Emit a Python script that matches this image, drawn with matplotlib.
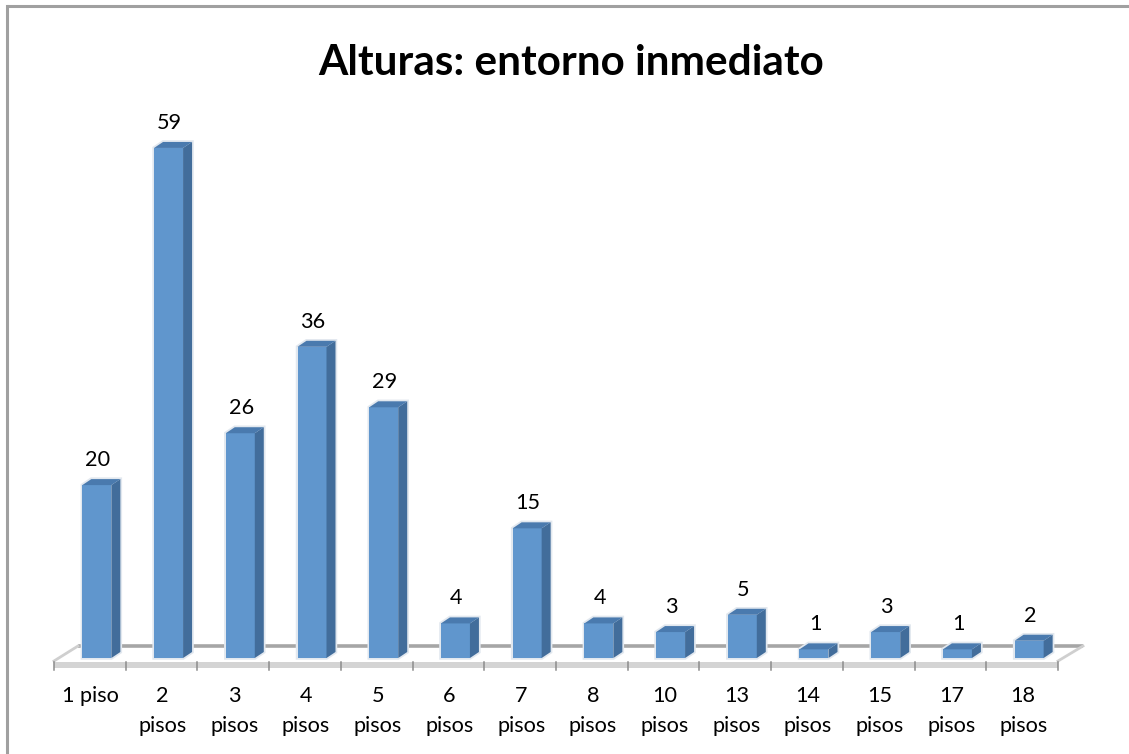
import matplotlib
matplotlib.use("Agg")
import matplotlib.pyplot as plt
from matplotlib.patches import Polygon

categories = ["1 piso", "2\npisos", "3\npisos", "4\npisos", "5\npisos", "6\npisos", "7\npisos",
              "8\npisos", "10\npisos", "13\npisos", "14\npisos", "15\npisos", "17\npisos", "18\npisos"]
values = [20, 59, 26, 36, 29, 4, 15, 4, 3, 5, 1, 3, 1, 2]

W, H = 1129, 754
plt.rcParams["font.family"] = ["Lato", "DejaVu Sans"]

fig = plt.figure(figsize=(W / 100, H / 100), dpi=100, facecolor="white")

# chart frame, only top and left show in the picture
fig.add_artist(plt.Line2D([7 / W, 7 / W], [0, (H - 6) / H], color="#a0a0a0", lw=2.2,
                          solid_capstyle="projecting"))
fig.add_artist(plt.Line2D([7 / W, 1], [(H - 6) / H, (H - 6) / H], color="#a0a0a0", lw=2.2,
                          solid_capstyle="butt"))

# plot area: left/right are the first and last tick, bottom is the bar base
left, right, base, top = 54, 1058, 658, 100
ax = fig.add_axes([left / W, (H - base) / H, (right - left) / W, (base - top) / H])
ax.set_xlim(-0.5, len(values) - 0.5)
ax.set_ylim(0, (base - top) / 8.645)
ax.axis("off")

# pixel sizes turned into data units
px_x = len(values) / (right - left)
px_y = 1 / 8.645
dep_x, dep_y = 9 * px_x, 6 * px_y
bar_w = 29 * px_x
shift = 7 * px_x


def poly(points, color, z, **kw):
    ax.add_patch(Polygon(points, closed=True, facecolor=color, edgecolor=kw.pop("edge", "none"),
                         zorder=z, clip_on=False, **kw))


# floor
x0, x1 = -0.5, len(values) - 0.5
ax.plot([x0 + 24 * px_x, x1 + 25 * px_x], [12 * px_y, 12 * px_y], color="#a6a6a6", lw=2.6,
        zorder=2, clip_on=False, solid_capstyle="butt")
ax.plot([x0, x0 + 24 * px_x], [-3 * px_y, 12 * px_y], color="#cfcfcf", lw=2, zorder=2, clip_on=False)
ax.plot([x1, x1 + 25 * px_x], [-3 * px_y, 12 * px_y], color="#cfcfcf", lw=2, zorder=2, clip_on=False)
poly([(x0, -4 * px_y), (x1, -4 * px_y), (x1, -10 * px_y), (x0, -10 * px_y)], "#d4d4d4", 2)
for t in range(len(values) + 1):
    ax.plot([x0 + t, x0 + t], [-4 * px_y, -12 * px_y], color="#8c8c8c", lw=1.1, zorder=3, clip_on=False)

for i, v in enumerate(values):
    l = i + shift - bar_w / 2
    r = l + bar_w
    outline = [(l, 0), (r, 0), (r + dep_x, dep_y), (r + dep_x, v + dep_y), (l + dep_x, v + dep_y), (l, v)]
    # soft shadow around the bar
    poly(outline, "#e2e8ef", 3, edge="#e2e8ef", linewidth=2.5)
    # front, side and top faces
    ax.bar(i + shift, v, width=bar_w, color="#6096cd", zorder=5)
    poly([(r, 0), (r + dep_x, dep_y), (r + dep_x, v + dep_y), (r, v)], "#426d9b", 5)
    poly([(l, v), (l + dep_x, v + dep_y), (r + dep_x, v + dep_y), (r, v)], "#4a7aae", 5)
    ax.text(i + shift + 1 * px_x, v + 15 * px_y, str(v), ha="center", va="bottom", fontsize=15.6,
            color="black", zorder=6)
    ax.text(i + 1 * px_x, -28 * px_y, categories[i], ha="center", va="top", fontsize=15.6, color="black",
            linespacing=1.62, zorder=6)

fig.text(571 / W, (H - 63) / H, "Alturas: entorno inmediato", ha="center", va="center",
         fontsize=30.4, fontweight="bold", color="black")

fig.savefig("out.png", dpi=100, facecolor="white")
